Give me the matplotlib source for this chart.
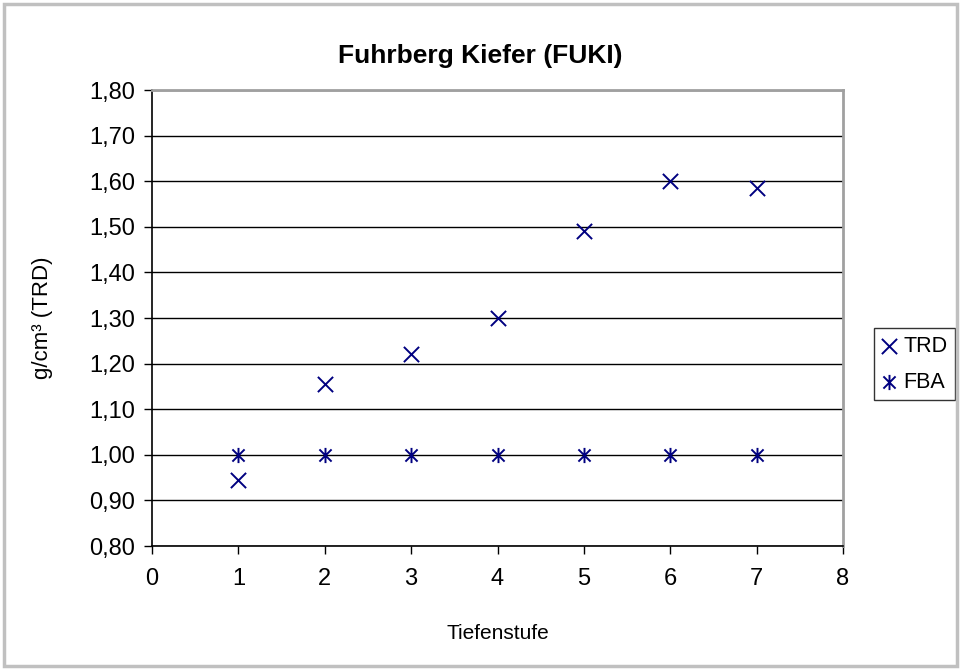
import matplotlib.pyplot as plt
import numpy as np
from matplotlib.path import Path
from matplotlib.patches import Rectangle
from matplotlib.ticker import FuncFormatter

plt.rcParams['font.family'] = ['Liberation Sans', 'DejaVu Sans']

tiefenstufe = [1, 2, 3, 4, 5, 6, 7]
trd = [0.945, 1.155, 1.22, 1.30, 1.49, 1.60, 1.585]
fba = [1.00, 1.00, 1.00, 1.00, 1.00, 1.00, 1.00]

navy = '#000080'

# Excel-style asterisk: x plus vertical bar
star = Path([(-1, -1), (1, 1), (-1, 1), (1, -1), (0, -1.25), (0, 1.25)],
            [Path.MOVETO, Path.LINETO, Path.MOVETO, Path.LINETO, Path.MOVETO, Path.LINETO])


def comma(v, pos):
    return f"{v:.2f}".replace('.', ',')


def program_main():
    fig = plt.figure(figsize=(9.61, 6.70), dpi=100)
    ax = fig.add_axes([152 / 961, 124 / 670, 691 / 961, 456 / 670])

    ax.scatter(tiefenstufe, trd, marker='x', s=120, color=navy, linewidths=1.4, label='TRD', zorder=3)
    ax.scatter(tiefenstufe, fba, marker=star, s=120, color=navy, linewidths=1.4, label='FBA', zorder=3)

    ax.set_xlim(0, 8)
    ax.set_ylim(0.8, 1.8)
    ax.set_xticks(range(0, 9))
    ax.set_yticks(np.arange(0.8, 1.81, 0.1))
    ax.yaxis.set_major_formatter(FuncFormatter(comma))
    ax.yaxis.grid(True, color='black', linewidth=1)
    ax.set_axisbelow(True)
    ax.tick_params(labelsize=17, length=6, width=1, color='black')
    ax.tick_params(axis='y', pad=6)
    ax.tick_params(axis='x', pad=10)

    for side in ['top', 'right']:
        ax.spines[side].set_color('#a0a0a0')
        ax.spines[side].set_linewidth(2)
    for side in ['left', 'bottom']:
        ax.spines[side].set_color('black')
        ax.spines[side].set_linewidth(1.2)

    ax.set_xlabel('Tiefenstufe', fontsize=15, labelpad=24)
    ax.set_ylabel('g/cm³ (TRD)', fontsize=16, labelpad=26)
    fig.text(0.5, 1 - 56 / 670, 'Fuhrberg Kiefer (FUKI)', fontsize=19, fontweight='bold',
             ha='center', va='center')

    leg = ax.legend(loc='upper left', bbox_to_anchor=(1.045, 0.478), fontsize=15.5,
                    frameon=True, fancybox=False, edgecolor='black', handlelength=0.7,
                    handletextpad=0.3, borderpad=0.35, labelspacing=0.7, borderaxespad=0)
    leg.get_frame().set_linewidth(1)

    fig.patches.append(Rectangle((4 / 961, 4 / 670), 953 / 961, 662 / 670, transform=fig.transFigure,
                                 fill=False, edgecolor='#c0c0c0', linewidth=2.5))

    plt.savefig('out.png')


program_main()
